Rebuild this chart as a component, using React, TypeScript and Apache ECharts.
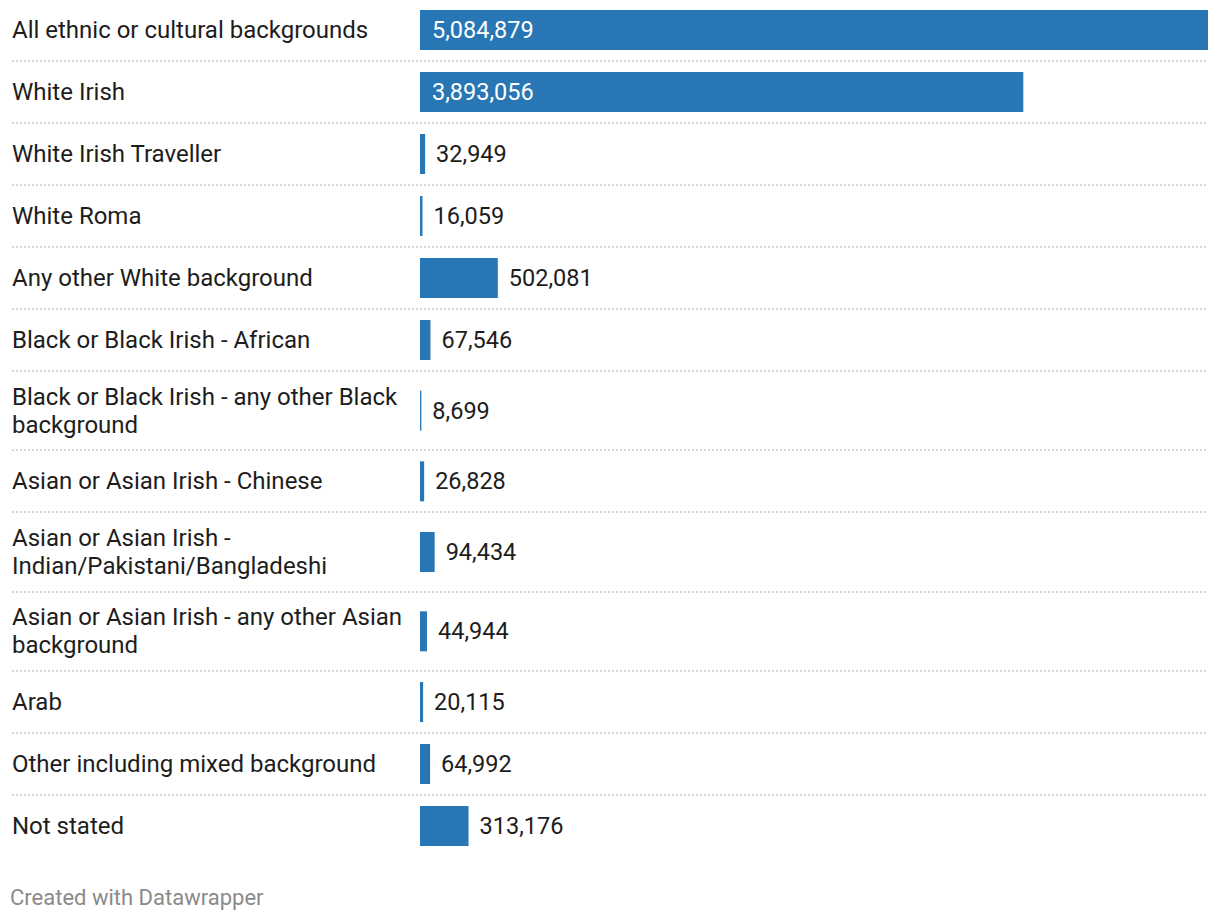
import React, { useEffect, useRef } from "react";
import * as echarts from "echarts";

const categories: string[] = [
  "All ethnic or cultural backgrounds",
  "White Irish",
  "White Irish Traveller",
  "White Roma",
  "Any other White background",
  "Black or Black Irish - African",
  "Black or Black Irish - any other Black\nbackground",
  "Asian or Asian Irish - Chinese",
  "Asian or Asian Irish -\nIndian/Pakistani/Bangladeshi",
  "Asian or Asian Irish - any other Asian\nbackground",
  "Arab",
  "Other including mixed background",
  "Not stated",
];

const values: number[] = [
  5084879, 3893056, 32949, 16059, 502081, 67546, 8699, 26828, 94434, 44944,
  20115, 64992, 313176,
];

const footerText = "Created with Datawrapper";

const FONT = "Roboto, 'Noto Sans', sans-serif";
const BAR_COLOR = "#2876b4";
const TEXT_COLOR = "#1d1d1d";

export default function App() {
  const ref = useRef<HTMLDivElement>(null);

  useEffect(() => {
    if (!ref.current) return;
    const chart = echarts.init(ref.current, undefined, { renderer: "svg" });
    const maxV = Math.max(...values);
    const gridLeft = 420;
    const gridRight = 12;
    const singleH = 62;
    const extraPerLine = 17.33;

    const grids: any[] = [];
    const xAxes: any[] = [];
    const yAxes: any[] = [];
    const series: any[] = [];
    const graphics: any[] = [];

    let top = 0;
    categories.forEach((cat, i) => {
      const lines = cat.split("\n").length;
      const h = singleH + (lines - 1) * extraPerLine;
      grids.push({ left: gridLeft, right: gridRight, top: top, height: h - 2 });
      xAxes.push({
        type: "value",
        gridIndex: i,
        min: 0,
        max: maxV,
        show: false,
      });
      yAxes.push({
        type: "category",
        gridIndex: i,
        data: [cat],
        axisLine: { show: false },
        axisTick: { show: false },
        splitLine: { show: false },
        axisLabel: {
          align: "left",
          margin: gridLeft - 12,
          fontSize: 24,
          lineHeight: 28,
          color: TEXT_COLOR,
          fontFamily: FONT,
        },
      });
      const inside = values[i] / maxV > 0.3;
      series.push({
        type: "bar",
        xAxisIndex: i,
        yAxisIndex: i,
        data: [values[i]],
        barWidth: 40,
        barMinWidth: 1,
        itemStyle: { color: BAR_COLOR },
        label: {
          show: true,
          position: inside ? "insideLeft" : "right",
          distance: inside ? 12 : 11,
          color: inside ? "#ffffff" : TEXT_COLOR,
          fontSize: 23.5,
          fontFamily: FONT,
          formatter: (p: any) => Number(p.value).toLocaleString("en-US"),
        },
      });
      if (i < categories.length - 1) {
        const y = Math.round(top + h - 1);
        graphics.push({
          type: "line",
          shape: { x1: 12, y1: y, x2: 1220 - gridRight, y2: y },
          style: { stroke: "#d6d6d6", lineWidth: 2, lineDash: [2, 2] },
          silent: true,
        });
      }
      top += h;
    });

    graphics.push({
      type: "text",
      left: 10,
      top: 886,
      style: {
        text: footerText,
        fontSize: 22,
        fill: "#8a8a8a",
        fontFamily: FONT,
      },
    });

    chart.setOption({
      animation: false,
      backgroundColor: "#ffffff",
      grid: grids,
      xAxis: xAxes,
      yAxis: yAxes,
      series,
      graphic: graphics,
    });
    return () => chart.dispose();
  }, []);

  return (
    <div
      ref={ref}
      style={{ position: "fixed", left: 0, top: 0, width: 1220, height: 924 }}
    />
  );
}
